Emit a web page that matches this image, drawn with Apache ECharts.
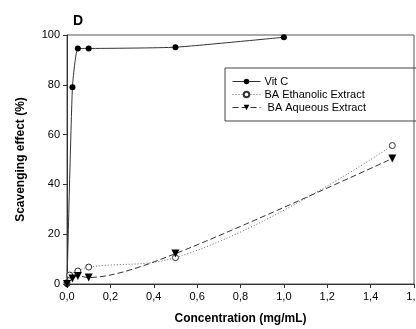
<!DOCTYPE html>
<html>
<head>
<meta charset="utf-8">
<script src="https://cdn.jsdelivr.net/npm/echarts@6/dist/echarts.min.js"></script>
<style>
  html, body { margin: 0; padding: 0; background: #fff; }
  #chart { width: 416px; height: 329px; }
</style>
</head>
<body>
<div id="chart"></div>
<script>
// concentration (mg/mL) vs scavenging effect (%)
const vitC = [[0, 0], [0.025, 79], [0.05, 94.6], [0.1, 94.6], [0.5, 95.1], [1.0, 99.1]];
const ethanolic = [[0, 0.5], [0.0125, 3.6], [0.05, 5.2], [0.1, 6.8], [0.5, 10.6], [1.5, 55.6]];
const aqueous = [[0, 0], [0.025, 2.2], [0.05, 3.2], [0.1, 2.6], [0.5, 12.2], [1.5, 50.4]];
const seriesNames = ['Vit C', 'BA Ethanolic Extract', ' BA Aqueous Extract'];

const chart = echarts.init(document.getElementById('chart'));
const font = 'Liberation Sans, Arial, sans-serif';

chart.setOption({
  animation: false,
  backgroundColor: '#fff',
  title: {
    text: 'D',
    left: 68,
    top: 9,
    textStyle: { fontFamily: font, fontSize: 14, fontWeight: 'bold', color: '#000' }
  },
  grid: {
    left: 67, right: 2, top: 35, bottom: 45,
    outerBoundsMode: 'none',
    show: true, borderColor: '#555', borderWidth: 1
  },
  legend: {
    orient: 'vertical',
    left: 225,
    top: 68,
    data: seriesNames,
    borderColor: '#444',
    borderWidth: 1,
    padding: [8, 60, 8, 7],
    itemGap: 2,
    itemWidth: 28,
    itemHeight: 7,
    lineStyle: { width: 1 },
    textStyle: { fontFamily: font, fontSize: 11, color: '#000', padding: [0, 0, 0, -1] }
  },
  xAxis: {
    type: 'value',
    min: 0,
    max: 1.6,
    interval: 0.2,
    name: 'Concentration (mg/mL)',
    nameLocation: 'middle',
    nameGap: 29,
    nameTextStyle: { fontFamily: font, fontSize: 12, fontWeight: 'bold', color: '#000' },
    axisLine: { lineStyle: { color: '#333' } },
    axisTick: { length: 4, lineStyle: { color: '#333' } },
    axisLabel: {
      fontFamily: font, fontSize: 11, color: '#000', margin: 7,
      formatter: v => v.toFixed(1).replace('.', ',')
    },
    splitLine: { show: false }
  },
  yAxis: {
    type: 'value',
    min: 0,
    max: 100,
    interval: 20,
    name: 'Scavenging effect (%)',
    nameLocation: 'middle',
    nameGap: 40,
    nameTextStyle: { fontFamily: font, fontSize: 12, fontWeight: 'bold', color: '#000' },
    axisLine: { lineStyle: { color: '#333' } },
    axisTick: { length: 4, lineStyle: { color: '#333' } },
    axisLabel: { fontFamily: font, fontSize: 11, color: '#000', margin: 7 },
    splitLine: { show: false }
  },
  series: [
    {
      name: seriesNames[0],
      type: 'line',
      data: vitC,
      smooth: 0.15,
      symbol: 'circle',
      symbolSize: 6,
      itemStyle: { color: '#000' },
      lineStyle: { color: '#333', width: 1 }
    },
    {
      name: seriesNames[1],
      type: 'line',
      data: ethanolic,
      smooth: 0.4,
      symbol: 'circle',
      symbolSize: 6,
      itemStyle: { color: '#fff', borderColor: '#333', borderWidth: 1 },
      lineStyle: { color: '#666', width: 1, type: [1, 2] }
    },
    {
      name: seriesNames[2],
      type: 'line',
      data: aqueous,
      smooth: 0.3,
      symbol: 'triangle',
      symbolRotate: 180,
      symbolSize: 8,
      itemStyle: { color: '#000' },
      lineStyle: { color: '#333', width: 1, type: [6, 3] }
    }
  ]
});
</script>
</body>
</html>
